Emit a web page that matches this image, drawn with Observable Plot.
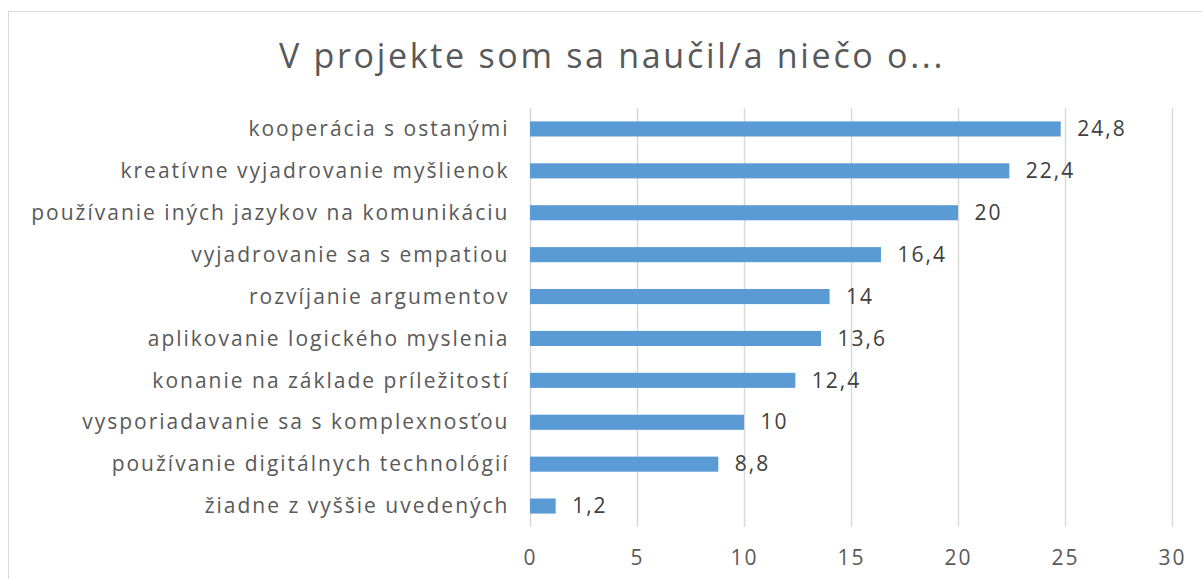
<!DOCTYPE html>
<html><head><meta charset="utf-8">
<script src="https://cdn.jsdelivr.net/npm/d3@7"></script>
<script src="https://cdn.jsdelivr.net/npm/@observablehq/plot@0.6"></script>
<style>
html,body{margin:0;padding:0;background:#fff;width:1202px;height:579px;overflow:hidden;}
#frame{position:absolute;left:8px;top:11px;width:1300px;height:700px;border-top:1px solid #d9d9d9;border-left:1px solid #d9d9d9;box-sizing:border-box;}
#title{position:absolute;left:8px;top:30px;width:1208px;text-align:center;font-family:"Open Sans",sans-serif;font-size:34px;letter-spacing:2.7px;color:#595959;line-height:50px;white-space:nowrap;}
#chart{position:absolute;left:0;top:88px;}
#chart svg text{letter-spacing:2px;}
</style></head>
<body>
<div id="frame"></div>
<div id="title">V projekte som sa naučil/a niečo o...</div>
<div id="chart"></div>
<script>
const titleText = "V projekte som sa naučil/a niečo o...";
const categories = [
  "kooperácia s ostanými",
  "kreatívne vyjadrovanie myšlienok",
  "používanie iných jazykov na komunikáciu",
  "vyjadrovanie sa s empatiou",
  "rozvíjanie argumentov",
  "aplikovanie logického myslenia",
  "konanie na základe príležitostí",
  "vysporiadavanie sa s komplexnosťou",
  "používanie digitálnych technológií",
  "žiadne z vyššie uvedených"
];
const values = [24.8, 22.4, 20, 16.4, 14, 13.6, 12.4, 10, 8.8, 1.2];
const xTicks = [0, 5, 10, 15, 20, 25, 30];

const data = categories.map((c, i) => ({category: c, value: values[i]}));
const fmt = v => String(v).replace(".", ",");

const chart = Plot.plot({
  width: 1202,
  height: 491,
  marginLeft: 530,
  marginRight: 30,
  marginTop: 20,
  marginBottom: 52,
  style: {fontFamily: "'Open Sans', sans-serif", fontSize: "21px", color: "#595959", background: "transparent"},
  x: {domain: [0, 30], ticks: xTicks, tickFormat: d => String(d), label: null},
  y: {domain: categories, paddingInner: 0.64, paddingOuter: 0.32, round: false, label: null},
  marks: [
    Plot.gridX(xTicks, {stroke: "#d9d9d9", strokeOpacity: 1, strokeWidth: 1.5}),
    Plot.barX(data, {x: "value", y: "category", fill: "#5B9BD5"}),
    Plot.text(data, {x: "value", y: "category", text: d => fmt(d.value), textAnchor: "start", dx: 16, fill: "#404040", fontSize: 21}),
    Plot.axisX(xTicks, {tickSize: 0, tickPadding: 23, fill: "#595959", fontSize: 21, label: null}),
    Plot.axisY({tickSize: 0, tickPadding: 21, fill: "#595959", fontSize: 21, label: null})
  ]
});
document.getElementById("chart").appendChild(chart);
</script>
</body></html>
